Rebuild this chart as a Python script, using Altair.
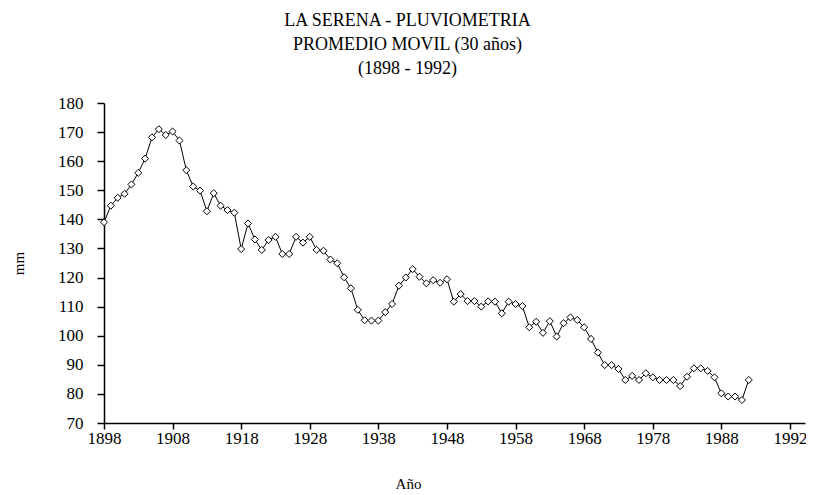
import altair as alt
import pandas as pd

years = list(range(1898, 1993))
values = [
    139.0, 144.7, 147.4, 148.8, 152.0, 156.0, 160.9, 168.2, 171.0, 169.0,
    170.2, 167.1, 156.9, 151.3, 149.9, 142.8, 149.0, 144.7, 143.2, 142.3,
    129.8, 138.6, 133.1, 129.5, 132.9, 134.0, 128.1, 128.1, 134.0, 132.0,
    134.0, 129.5, 129.2, 126.2, 124.9, 120.1, 116.3,
    108.9, 105.3, 105.2, 105.2, 108.1, 110.9, 117.2, 120.0, 122.9, 120.3,
    118.0, 119.1, 118.2, 119.4,
    111.7, 114.3, 111.9, 111.9, 110.0,
    111.8, 111.7, 107.7, 111.7, 110.9, 110.2, 102.9, 104.8, 101.0, 105.0,
    99.7, 104.3, 106.3, 105.4, 102.9, 98.9, 94.2, 89.9, 89.9,
    88.6, 84.8, 86.2, 84.8, 87.1, 85.7, 84.8, 84.8, 84.8, 82.7,
    85.9, 88.8, 88.8, 87.9, 85.7, 80.2, 79.1, 79.1, 77.9, 84.8,
]
x_tick_values = [1898, 1908, 1918, 1928, 1938, 1948, 1958, 1968, 1978, 1988, 1998]
x_tick_labels = ["1898", "1908", "1918", "1928", "1938", "1948", "1958", "1968", "1978", "1988", "1992"]
y_tick_values = [70, 80, 90, 100, 110, 120, 130, 140, 150, 160, 170, 180]
title_lines = ["LA SERENA  -  PLUVIOMETRIA", "PROMEDIO MOVIL (30 años)", "(1898 - 1992)"]

df = pd.DataFrame({"year": years, "mm": values})

label_expr = " : ".join(
    f"datum.value == {v} ? '{l}'" for v, l in zip(x_tick_values, x_tick_labels)
) + " : ''"

FONT = "Liberation Serif"

base = alt.Chart(df).encode(
    x=alt.X(
        "year:Q",
        scale=alt.Scale(domain=[1898, 2000.2], nice=False, zero=False),
        axis=alt.Axis(
            values=x_tick_values, labelExpr=label_expr, title="Año",
            titleX=304, titleY=60, titleBaseline="middle", titleAlign="center",
            labelPadding=1, tickSize=6, labelFlush=False,
        ),
    ),
    y=alt.Y(
        "mm:Q",
        scale=alt.Scale(domain=[70, 180], nice=False, zero=False),
        axis=alt.Axis(
            values=y_tick_values, title="mm", titleAngle=270,
            titleX=-86, titleY=160, titleBaseline="middle", titleAlign="center",
            labelPadding=14, tickSize=7, labelFlush=False,
        ),
    ),
)

line = base.mark_line(color="black", strokeWidth=1)
pts = base.mark_point(shape="diamond", filled=True, fill="white", stroke="black",
                      strokeWidth=1, size=50, opacity=1)

chart = (
    alt.layer(line, pts)
    .properties(
        width=701, height=320,
        title=alt.Title(text=title_lines, font=FONT, fontSize=18, fontWeight="normal",
                        color="black", anchor="middle", dx=-47, offset=16, lineHeight=24),
        padding={"left": 96, "top": 95, "right": 1, "bottom": 72},
        autosize=alt.AutoSizeParams(type="none"),
    )
    .configure_view(stroke=None)
    .configure_axis(
        grid=False, domainColor="black", tickColor="black", labelColor="black",
        titleColor="black", domainWidth=1.5, tickWidth=1.5,
        labelFont=FONT, labelFontSize=17, titleFont=FONT, titleFontSize=15,
        titleFontWeight="normal",
    )
)

chart.save("out.html", embed_options={"renderer": "svg", "actions": False})
